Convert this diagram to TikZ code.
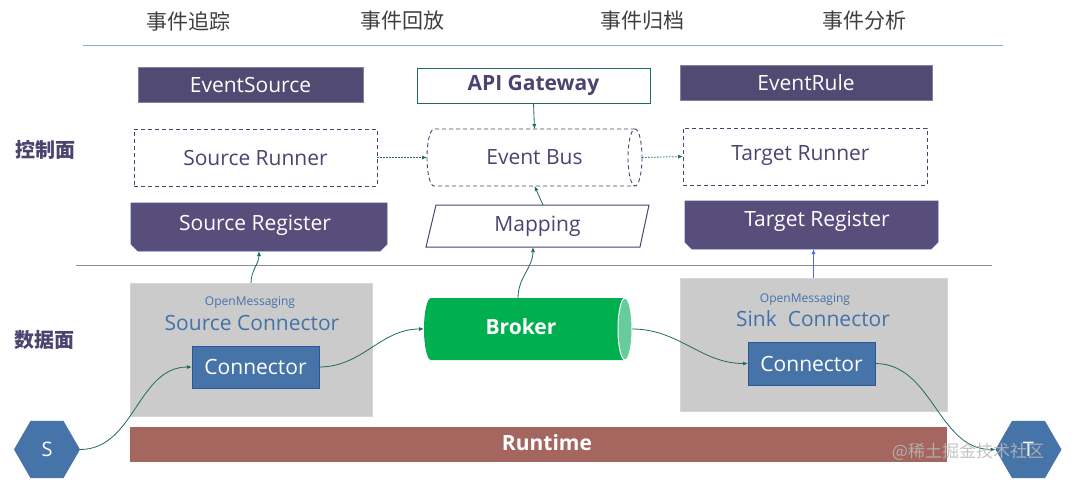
\documentclass[tikz,border=0pt]{standalone}
\usepackage{fontspec}
\setmainfont{Open Sans}
\newfontfamily\cjk{Noto Sans CJK SC}
\usetikzlibrary{arrows.meta,shapes.geometric}
\definecolor{ppl}{HTML}{514A72}
\definecolor{pplr}{HTML}{584E7C}
\definecolor{ptxt}{HTML}{4B4470}
\definecolor{tealc}{HTML}{1F6B60}
\definecolor{stb}{HTML}{4674A8}
\definecolor{stbd}{HTML}{2F5597}
\definecolor{grn}{HTML}{00B050}
\definecolor{lgrn}{HTML}{66CC99}
\definecolor{rt}{HTML}{A4665F}
\definecolor{gbox}{HTML}{CBCBCB}
\definecolor{lnA}{HTML}{8FAADC}
\definecolor{lnB}{HTML}{8C8AA0}
\definecolor{ombl}{HTML}{4472A8}
\definecolor{regb}{HTML}{4A5A9A}
\definecolor{ttl}{HTML}{3F3F3F}
\begin{document}
\begin{tikzpicture}[x=1pt,y=-1pt,
  lab/.style={font=\fontsize{21}{24}\selectfont, inner sep=0pt, outer sep=0pt},
  blab/.style={font=\bfseries\fontsize{21}{24}\selectfont, inner sep=0pt, outer sep=0pt},
  ttlab/.style={font=\cjk\fontsize{21}{24}\selectfont, text=ttl, inner sep=0pt},
  sidelab/.style={font=\cjk\bfseries\fontsize{20}{24}\selectfont, text=ptxt, inner sep=0pt},
  solidbox/.style={lab, fill=ppl, draw=ppl!70!white, line width=0.6pt, text=white},
  dashbox/.style={lab, draw=ptxt, dash pattern=on 4pt off 3pt, line width=0.9pt, text=ptxt},
  graybox/.style={fill=gbox, draw=gbox!80!white, line width=0.6pt, inner sep=0pt, outer sep=0pt},
  connbox/.style={lab, fill=stb, draw=stbd, line width=0.8pt, text=white},
  hexa/.style={regular polygon, regular polygon sides=6, minimum size=66pt, inner sep=0pt, outer sep=0pt, fill=stb, text=white, font=\fontsize{20}{24}\selectfont},
  arr/.style={draw=tealc, line width=0.8pt, -{Latex[length=5pt,width=4pt]}},
  dotarr/.style={arr, dash pattern=on 1.5pt off 1.5pt}
]
\fill[white] (0,0) rectangle (1080,480);
\useasboundingbox (0,0) rectangle (1080,480);

% titles
\node[ttlab] (t1) at (188,21) {事件追踪};
\node[ttlab] (t2) at (402,21) {事件回放};
\node[ttlab] (t3) at (642,21) {事件归档};
\node[ttlab] (t4) at (864,21) {事件分析};
\draw[lnA, line width=1pt] (83,45) -- (1003,45);
\draw[lnB, line width=1pt] (76,265) -- (992,265);

\node[sidelab] (ctl) at (46,150) {控制面};
\node[sidelab] (dat) at (44,340) {数据面};

% control plane
\node[solidbox, minimum width=225pt, minimum height=35pt] (esrc) at (250.5,84.5) {EventSource};
\node[blab, draw=tealc, line width=1pt, fill=white, text=ptxt, minimum width=233pt, minimum height=35pt] (api) at (533.5,85.5) {API Gateway};
\node[solidbox, minimum width=252pt, minimum height=35pt] (erule) at (806,82.5) {EventRule};

\node[dashbox, minimum width=243pt, minimum height=57pt] (srun) at (255.5,157.5) {Source Runner};
\draw[ptxt, dash pattern=on 4pt off 3pt, line width=0.9pt] (635,129) -- (434,129) .. controls (430.1,129) and (427,141.8) .. (427,157.5) .. controls (427,173.2) and (430.1,186) .. (434,186) -- (635,186);
\draw[ptxt, dash pattern=on 4pt off 3pt, line width=0.9pt] (635,157.5) ellipse [x radius=7, y radius=28.5];
\node[lab, text=ptxt, minimum width=215pt, minimum height=57pt] (bus) at (534.5,157.5) {Event Bus};
\node[lab, draw=ptxt, dash pattern=on 4pt off 3pt, line width=0.9pt, minimum width=244pt, minimum height=57pt] (trun) at (805,156.5) {};
\node[lab, text=ptxt] (trunt) at (800.5,156) {Target Runner};

\filldraw[fill=pplr, draw=regb, line width=0.8pt] (131,203) -- (387,203) -- (387,244) -- (380,251) -- (138,251) -- (131,244) -- cycle;
\node[lab, text=white, minimum width=256pt, minimum height=48pt] (sreg) at (259,227) {};
\node[lab, text=white] (sregt) at (255,225) {Source Register};
\filldraw[fill=white, draw=ptxt, line width=1pt] (436,205) -- (649,205) -- (640,247) -- (426,247) -- cycle;
\node[lab, text=ptxt, minimum width=214pt, minimum height=42pt] (map) at (537.5,226) {Mapping};
\filldraw[fill=pplr, draw=regb, line width=0.8pt] (685,201) -- (938,201) -- (938,242) -- (931,249) -- (692,249) -- (685,242) -- cycle;
\node[lab, text=white, minimum width=253pt, minimum height=48pt] (treg) at (811.5,225) {};
\node[lab, text=white] (tregt) at (817,221) {Target Register};

% data plane
\node[graybox, minimum width=242pt, minimum height=133pt] (scbox) at (251,349.5) {};
\node[font=\fontsize{12}{14}\selectfont, text=ombl, inner sep=0pt] (om1) at (250,303) {OpenMessaging};
\node[lab, text=ombl] (sct) at (252,323) {Source Connector};
\node[connbox, minimum width=127pt, minimum height=42pt] (c1) at (255.5,367) {Connector};

\fill[grn] (625,298) -- (431,298) .. controls (427.1,298) and (424,311.9) .. (424,329) .. controls (424,346.1) and (427.1,360) .. (431,360) -- (625,360) -- cycle;
\filldraw[fill=lgrn, draw=white, line width=1pt] (625,329) ellipse [x radius=7, y radius=31];
\node[blab, text=white, minimum width=208pt, minimum height=62pt] (broker) at (528,329) {};
\node[blab, text=white] (brokert) at (521,327) {Broker};

\node[graybox, minimum width=267pt, minimum height=133pt] (skbox) at (813.5,344.5) {};
\node[font=\fontsize{12}{14}\selectfont, text=ombl, inner sep=0pt] (om2) at (805,300) {OpenMessaging};
\node[lab, text=ombl] (skt) at (813,319) {Sink\ \ Connector};
\node[connbox, minimum width=127pt, minimum height=43pt] (c2) at (811.5,363.5) {Connector};

\node[fill=rt, minimum width=817pt, minimum height=35pt, inner sep=0pt, outer sep=0pt] (rtm) at (538.5,444) {};
\node[blab, text=white] (rtmt) at (547,443) {Runtime};

\node[hexa] (S) at (47,449.5) {S};
\node[hexa] (T) at (1028.5,449.5) {T};

% connectors
\draw[arr] (api.south) -- (bus.north);
\draw[dotarr] (srun.east) -- (bus.west);
\draw[dotarr] (bus.east) -- (trun.west);
\draw[arr] ([xshift=5.5pt]map.north) -- (bus.south);
\draw[arr] ([xshift=-10pt]broker.north) to[out=90,in=-90] ([xshift=-4.5pt]map.south);
\draw[arr] (scbox.north) to[out=90,in=-90] (sreg.south);
\draw[draw=lnA!60!blue, line width=0.8pt, -{Latex[length=5pt,width=4pt]}] (skbox.north) -- (skbox.north |- treg.south);
\draw[arr] (S.east) to[out=0,in=180] (c1.west);
\draw[arr] (c1.east) to[out=0,in=180] (broker.west);
\draw[arr] (broker.east) to[out=0,in=180] (c2.west);
\draw[arr] (c2.east) to[out=0,in=180] (T.west);

\node[font=\cjk\fontsize{17}{20}\selectfont, text=gray!55, opacity=0.85, inner sep=0pt] (wm) at (968,452) {@稀土掘金技术社区};
\end{tikzpicture}
\end{document}
